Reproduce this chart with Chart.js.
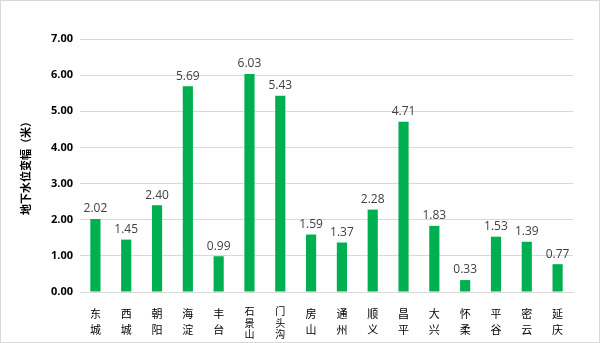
<!DOCTYPE html>
<html>
<head>
<meta charset="utf-8">
<script src="https://cdn.jsdelivr.net/npm/chart.js@4/dist/chart.umd.min.js"></script>
<style>
  html, body { margin: 0; padding: 0; background: #fff; }
  #wrap { width: 600px; height: 343px; box-sizing: border-box; border: 1px solid #d9d9d9; }
  canvas { display: block; }
</style>
</head>
<body>
<div id="wrap"><canvas id="chart" width="598" height="341"></canvas></div>
<script>
const districts = ['东城', '西城', '朝阳', '海淀', '丰台', '石景山', '门头沟', '房山', '通州', '顺义', '昌平', '大兴', '怀柔', '平谷', '密云', '延庆'];
const waterChange = [2.02, 1.45, 2.40, 5.69, 0.99, 6.03, 5.43, 1.59, 1.37, 2.28, 4.71, 1.83, 0.33, 1.53, 1.39, 0.77];

// labels stacked one character per line
const labels = districts.map(d => d.split(''));

const valueLabels = {
  id: 'valueLabels',
  afterDatasetsDraw(chart) {
    const ctx = chart.ctx;
    const meta = chart.getDatasetMeta(0);
    ctx.save();
    ctx.font = '12px "Open Sans", sans-serif';
    ctx.fillStyle = '#404040';
    ctx.textAlign = 'center';
    ctx.textBaseline = 'bottom';
    meta.data.forEach((bar, i) => {
      ctx.fillText(waterChange[i].toFixed(2), bar.x, bar.y - 4);
    });
    ctx.restore();
  }
};

const myChart = new Chart(document.getElementById('chart'), {
  type: 'bar',
  data: {
    labels: labels,
    datasets: [{
      data: waterChange,
      backgroundColor: '#00b050',
      barPercentage: 0.33,
      categoryPercentage: 1
    }]
  },
  options: {
    responsive: false,
    animation: false,
    layout: { padding: { top: 38, right: 26, bottom: 0, left: 0 } },
    plugins: { legend: { display: false }, tooltip: { enabled: false } },
    scales: {
      x: {
        grid: { display: false },
        border: { color: '#d9d9d9' },
        ticks: {
          color: '#000',
          // three-character names are set smaller and tighter
          font: c => {
            const long = districts[c.index] && districts[c.index].length > 2;
            return {
              family: '"Noto Sans CJK SC"',
              size: long ? 10 : 11,
              lineHeight: long ? 1.12 : 1.45
            };
          },
          padding: 6,
          maxRotation: 0,
          autoSkip: false
        },
        afterFit(scale) { scale.height = 50; }
      },
      y: {
        min: 0,
        max: 7,
        grid: { color: '#d9d9d9', drawTicks: false },
        border: { display: false },
        ticks: {
          stepSize: 1,
          color: '#000',
          padding: 7,
          font: { family: '"Open Sans", sans-serif', size: 11, weight: 'bold' },
          callback: v => v.toFixed(2)
        },
        title: {
          display: true,
          text: '地下水位变幅（米）',
          color: '#000',
          font: { family: '"Noto Sans CJK SC"', size: 11, weight: 'bold' },
          padding: { top: 18, bottom: 0 }
        },
        afterFit(scale) { scale.width = 79; }
      }
    }
  },
  plugins: [valueLabels]
});
</script>
</body>
</html>
